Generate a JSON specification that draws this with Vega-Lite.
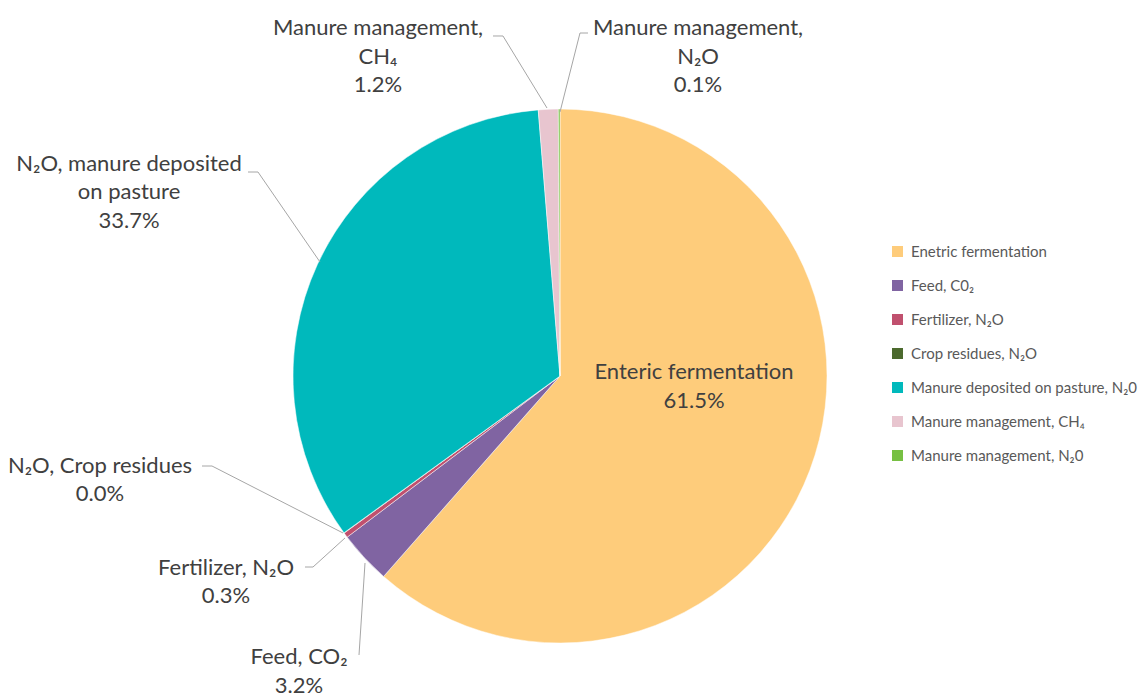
{
  "$schema": "https://vega.github.io/schema/vega-lite/v6.json",
  "width": 1120,
  "height": 636,
  "autosize": {"type": "none"},
  "padding": {"left": 0, "top": 58, "right": 19, "bottom": 0},
  "background": "white",
  "config": {"view": {"stroke": null}},
  "datasets": {
    "slices": [
      {"cat": "Enetric fermentation", "value": 61.5, "ord": 1},
      {"cat": "Feed, C0₂", "value": 3.2, "ord": 2},
      {"cat": "Fertilizer, N₂O", "value": 0.3, "ord": 3},
      {"cat": "Crop residues, N₂O", "value": 0.02, "ord": 4},
      {"cat": "Manure deposited on pasture, N₂0", "value": 33.7, "ord": 5},
      {"cat": "Manure management, CH₄", "value": 1.2, "ord": 6},
      {"cat": "Manure management, N₂0", "value": 0.1, "ord": 7}
    ],
    "leaders": [
      {"id": "ch4", "seq": 1, "x": -25.09, "y": 127.34},
      {"id": "ch4", "seq": 2, "x": -21.35, "y": 127.34},
      {"id": "ch4", "seq": 3, "x": -4.87, "y": 100.37},
      {"id": "n2o", "seq": 1, "x": 10.49, "y": 128.46},
      {"id": "n2o", "seq": 2, "x": 7.49, "y": 128.46},
      {"id": "n2o", "seq": 3, "x": 0.0, "y": 98.88},
      {"id": "past", "seq": 1, "x": -116.85, "y": 76.40},
      {"id": "past", "seq": 2, "x": -113.11, "y": 76.40},
      {"id": "past", "seq": 3, "x": -89.89, "y": 42.70},
      {"id": "crop", "seq": 1, "x": -134.08, "y": -33.71},
      {"id": "crop", "seq": 2, "x": -130.34, "y": -33.71},
      {"id": "crop", "seq": 3, "x": -81.27, "y": -58.80},
      {"id": "fert", "seq": 1, "x": -95.51, "y": -71.54},
      {"id": "fert", "seq": 2, "x": -92.51, "y": -71.54},
      {"id": "fert", "seq": 3, "x": -80.52, "y": -60.67},
      {"id": "feed", "seq": 1, "x": -73.03, "y": -70.04},
      {"id": "feed", "seq": 2, "x": -75.28, "y": -104.49}
    ],
    "labels": [
      {"text": "Manure management,\nCH₄\n1.2%", "x": -68.16, "y": 134.08},
      {"text": "Manure management,\nN₂O\n0.1%", "x": 51.69, "y": 134.08},
      {"text": "N₂O, manure deposited\non pasture\n33.7%", "x": -161.42, "y": 83.15},
      {"text": "N₂O, Crop residues\n0.0%", "x": -172.28, "y": -29.96},
      {"text": "Fertilizer, N₂O\n0.3%", "x": -125.09, "y": -68.16},
      {"text": "Feed, CO₂\n3.2%", "x": -97.75, "y": -101.6},
      {"text": "Enteric fermentation\n61.5%", "x": 50.19, "y": 5.24}
    ]
  },
  "layer": [
    {
      "data": {"name": "slices"},
      "mark": {"type": "arc", "outerRadius": 267, "stroke": "white", "strokeWidth": 0.5},
      "encoding": {
        "theta": {"field": "value", "type": "quantitative", "stack": true},
        "order": {"field": "ord", "type": "quantitative"},
        "color": {
          "field": "cat",
          "type": "nominal",
          "scale": {
            "domain": ["Enetric fermentation", "Feed, C0₂", "Fertilizer, N₂O", "Crop residues, N₂O", "Manure deposited on pasture, N₂0", "Manure management, CH₄", "Manure management, N₂0"],
            "range": ["#FECC7B", "#8064A2", "#C0506E", "#4C6A2E", "#00B9BC", "#E8C5CF", "#77C043"]
          },
          "legend": {
            "title": null,
            "orient": "none",
            "legendX": 890,
            "legendY": 186,
            "padding": 0,
            "symbolType": "square",
            "symbolSize": 121,
            "symbolStrokeWidth": 0,
            "symbolOpacity": 1,
            "labelFont": "Lato",
            "labelFontSize": 15,
            "labelColor": "#595959",
            "labelOffset": 6,
            "labelLimit": 400,
            "rowPadding": 18
          }
        }
      }
    },
    {
      "data": {"name": "leaders"},
      "mark": {"type": "line", "color": "#A6A6A6", "strokeWidth": 1},
      "encoding": {
        "x": {"field": "x", "type": "quantitative", "scale": {"domain": [-209.74, 209.74], "nice": false, "zero": false}, "axis": null},
        "y": {"field": "y", "type": "quantitative", "scale": {"domain": [-119.10, 119.10], "nice": false, "zero": false}, "axis": null},
        "detail": {"field": "id", "type": "nominal"},
        "order": {"field": "seq", "type": "quantitative"}
      }
    },
    {
      "data": {"name": "labels"},
      "mark": {"type": "text", "font": "Lato", "fontSize": 22, "color": "#404040", "align": "center", "baseline": "top", "lineBreak": "\n", "lineHeight": 28.5},
      "encoding": {
        "x": {"field": "x", "type": "quantitative", "scale": {"domain": [-209.74, 209.74], "nice": false, "zero": false}, "axis": null},
        "y": {"field": "y", "type": "quantitative", "scale": {"domain": [-119.10, 119.10], "nice": false, "zero": false}, "axis": null},
        "text": {"field": "text", "type": "nominal"}
      }
    }
  ]
}
